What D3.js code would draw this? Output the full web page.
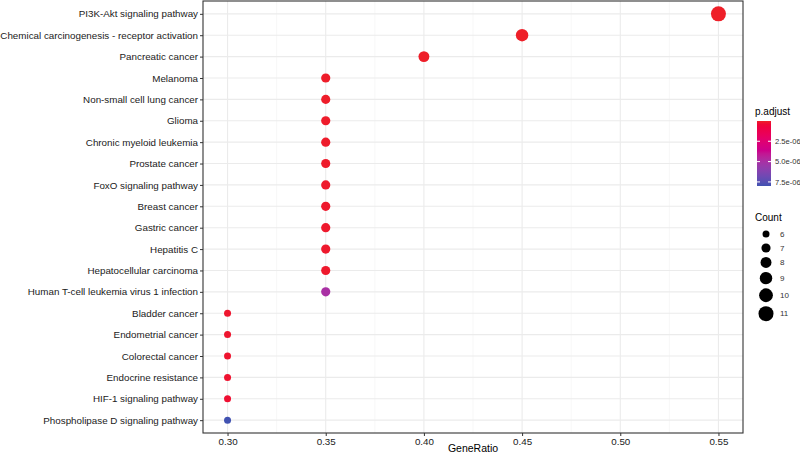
<!DOCTYPE html>
<html><head><meta charset="utf-8">
<script src="https://cdn.jsdelivr.net/npm/d3@7"></script>
<style>body{margin:0;background:#fff}svg{display:block;font-family:"Liberation Sans",Arial,sans-serif}</style>
</head><body><svg id="c" width="800" height="456"></svg>
<script>
const categories = ["PI3K-Akt signaling pathway","Chemical carcinogenesis - receptor activation","Pancreatic cancer","Melanoma","Non-small cell lung cancer","Glioma","Chronic myeloid leukemia","Prostate cancer","FoxO signaling pathway","Breast cancer","Gastric cancer","Hepatitis C","Hepatocellular carcinoma","Human T-cell leukemia virus 1 infection","Bladder cancer","Endometrial cancer","Colorectal cancer","Endocrine resistance","HIF-1 signaling pathway","Phospholipase D signaling pathway"];
const geneRatio = [0.55,0.45,0.40,0.35,0.35,0.35,0.35,0.35,0.35,0.35,0.35,0.35,0.35,0.35,0.30,0.30,0.30,0.30,0.30,0.30];
const counts = [11,9,8,7,7,7,7,7,7,7,7,7,7,7,6,6,6,6,6,6];
const pAdjust = [1e-8,2e-8,4e-8,6e-8,6e-8,8e-8,8e-8,1e-7,1.2e-7,1.4e-7,1.4e-7,1.4e-7,1.4e-7,5.0e-6,2e-7,2e-7,2.2e-7,2.5e-7,3e-7,8.0e-6];
const xTicks = [0.30,0.35,0.40,0.45,0.50,0.55];
const xMinor = [0.325,0.375,0.425,0.475,0.525];
const pTicks = [2.5e-6,5.0e-6,7.5e-6];
const pTickLabels = ["2.5e-06","5.0e-06","7.5e-06"];
const countLegend = [6,7,8,9,10,11];

const svg = d3.select("#c");
const P = {l:203, r:743, t:1, b:433};
const x = d3.scaleLinear().domain([0.2875,0.5625]).range([P.l,P.r]);
const y = d3.scalePoint().domain(categories).range([P.t,P.b]).padding(0.6);
const rArea = d3.scaleLinear().domain([6,11]).range([12.25,56.25]);
const r = c => Math.sqrt(rArea(c));
const pExt = d3.extent(pAdjust);
const col = d3.scaleLinear().domain(pExt).range(["#EE1F28","#4152B1"]).interpolate(d3.interpolateHcl);

// grid
const g = svg.append("g");
g.selectAll(".mn").data(xMinor).join("line").attr("x1",d=>x(d)).attr("x2",d=>x(d)).attr("y1",P.t).attr("y2",P.b).attr("stroke","#F2F2F2").attr("stroke-width",0.6);
g.selectAll(".mj").data(xTicks).join("line").attr("x1",d=>x(d)).attr("x2",d=>x(d)).attr("y1",P.t).attr("y2",P.b).attr("stroke","#EBEBEB").attr("stroke-width",1.1);
g.selectAll(".my").data(categories).join("line").attr("x1",P.l).attr("x2",P.r).attr("y1",d=>y(d)).attr("y2",d=>y(d)).attr("stroke","#EBEBEB").attr("stroke-width",1.1);

// points
const data = categories.map((c,i)=>({c, gr:geneRatio[i], n:counts[i], p:pAdjust[i]}));
svg.append("g").selectAll("circle").data(data).join("circle")
  .attr("cx",d=>x(d.gr)).attr("cy",d=>y(d.c)).attr("r",d=>r(d.n)).attr("fill",d=>col(d.p));

// border
svg.append("rect").attr("x",P.l).attr("y",P.t).attr("width",P.r-P.l).attr("height",P.b-P.t).attr("fill","none").attr("stroke","#333").attr("stroke-width",1.1);

// axes
const ya = svg.append("g").attr("transform",`translate(${P.l},0)`).call(d3.axisLeft(y).tickSize(3).tickPadding(2));
const xa = svg.append("g").attr("transform",`translate(0,${P.b})`).call(d3.axisBottom(x).tickValues(xTicks).tickFormat(d3.format(".2f")).tickSize(3).tickPadding(2));
[ya,xa].forEach(a=>{a.select(".domain").remove();a.selectAll(".tick line").attr("stroke","#333");a.selectAll("text").attr("fill","#1a1a1a").style("font-size","9.8px").style("font-family","Liberation Sans, Arial, sans-serif");});
svg.append("text").attr("x",(P.l+P.r)/2).attr("y",452).attr("text-anchor","middle").style("font-size","10.5px").attr("fill","#000").text("GeneRatio");

// color legend
svg.append("text").attr("x",755).attr("y",115).style("font-size","10px").text("p.adjust");
const cbTop=121, cbBot=186, cbL=757, cbW=14;
const cbY = d3.scaleLinear().domain(pExt).range([cbTop,cbBot]);
const defs = svg.append("defs");
const lg = defs.append("linearGradient").attr("id","cg").attr("x1",0).attr("x2",0).attr("y1",0).attr("y2",1);
d3.range(0,1.0001,0.05).forEach(t=>lg.append("stop").attr("offset",t).attr("stop-color",col(pExt[0]+t*(pExt[1]-pExt[0]))));
svg.append("rect").attr("x",cbL).attr("y",cbTop).attr("width",cbW).attr("height",cbBot-cbTop).attr("fill","url(#cg)");
pTicks.forEach((v,i)=>{
  const yy=cbY(v);
  svg.append("line").attr("x1",cbL).attr("x2",cbL+3).attr("y1",yy).attr("y2",yy).attr("stroke","#fff");
  svg.append("line").attr("x1",cbL+cbW-3).attr("x2",cbL+cbW).attr("y1",yy).attr("y2",yy).attr("stroke","#fff");
  svg.append("text").attr("x",775).attr("y",yy).attr("dy","0.35em").style("font-size","7.6px").attr("fill","#333").text(pTickLabels[i]);
});

// size legend
svg.append("text").attr("x",755).attr("y",221).style("font-size","10px").text("Count");
let cy=227;
countLegend.forEach(c=>{
  const h=Math.max(14,2*r(c)+4);
  const yy=cy+h/2;
  svg.append("circle").attr("cx",766).attr("cy",yy).attr("r",r(c)).attr("fill","#000");
  svg.append("text").attr("x",780).attr("y",yy).attr("dy","0.35em").style("font-size","8px").attr("fill","#333").text(c);
  cy+=h;
});
</script></body></html>
